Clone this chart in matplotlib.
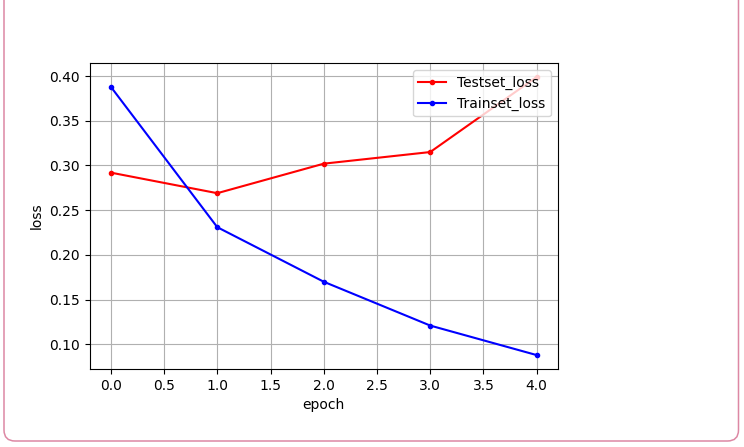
import numpy as np
import matplotlib
matplotlib.use("Agg")
import matplotlib.pyplot as plt
from matplotlib.path import Path
from matplotlib.patches import PathPatch

# values
epochs = [0, 1, 2, 3, 4]
test_loss = [0.292, 0.269, 0.302, 0.315, 0.399]
train_loss = [0.388, 0.231, 0.170, 0.121, 0.088]

fig = plt.figure(figsize=(7.44, 4.47), dpi=100)

# notebook-style output frame (open at the top), in pixel units
bg = fig.add_axes([0, 0, 1, 1], zorder=-1)
bg.set_xlim(0, 744)
bg.set_ylim(447, 0)
bg.axis("off")
x0, x1, yb, r = 4, 738.5, 441, 11
verts = [(x0, -5), (x0, yb - r), (x0, yb), (x0 + r, yb),
         (x1 - r, yb), (x1, yb), (x1, yb - r), (x1, -5)]
codes = [Path.MOVETO, Path.LINETO, Path.CURVE3, Path.CURVE3,
         Path.LINETO, Path.CURVE3, Path.CURVE3, Path.LINETO]
bg.add_patch(PathPatch(Path(verts, codes), fill=False,
                       edgecolor="#dd88a4", linewidth=1.1))

ax = fig.add_axes([89.5 / 744, 78 / 447, 468.5 / 744, 306 / 447])
ax.plot(epochs, test_loss, color="r", marker=".", label="Testset_loss")
ax.plot(epochs, train_loss, color="b", marker=".", label="Trainset_loss")
ax.grid(True)
ax.set_xlabel("epoch")
ax.set_ylabel("loss")
ax.legend(loc="upper right")

fig.savefig("out.png", dpi=100)
